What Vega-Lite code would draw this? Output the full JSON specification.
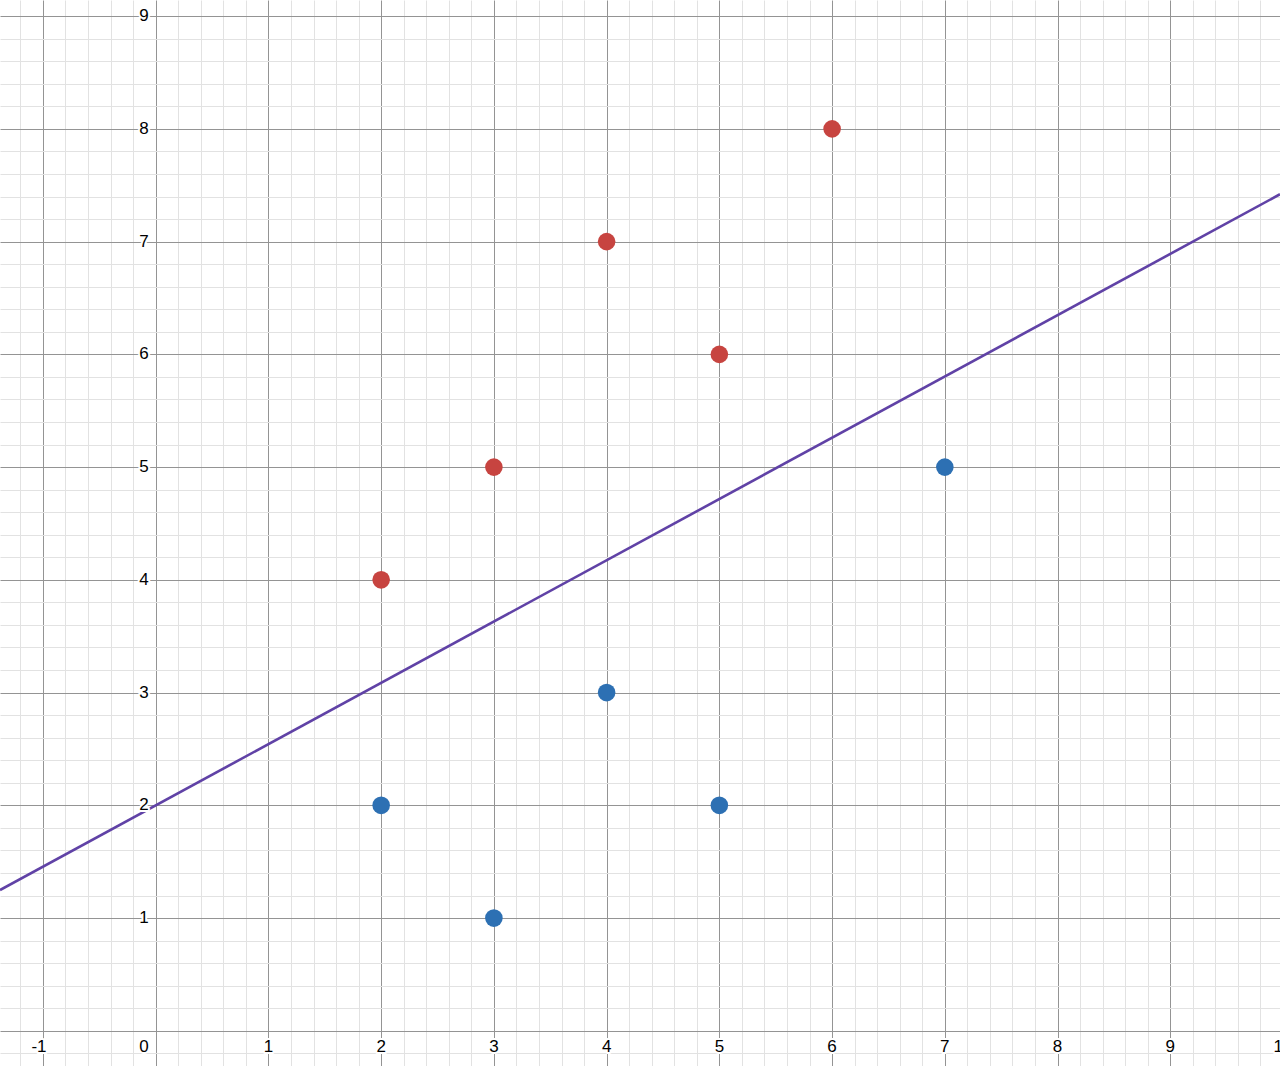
{
  "$schema": "https://vega.github.io/schema/vega-lite/v6.json",
  "width": 1280,
  "height": 1066,
  "padding": 0,
  "autosize": {"type": "none"},
  "background": "white",
  "config": {"view": {"stroke": null}},
  "datasets": {
    "points": [
      {"x": 2, "y": 4, "group": "red"},
      {"x": 3, "y": 5, "group": "red"},
      {"x": 4, "y": 7, "group": "red"},
      {"x": 5, "y": 6, "group": "red"},
      {"x": 6, "y": 8, "group": "red"},
      {"x": 2, "y": 2, "group": "blue"},
      {"x": 3, "y": 1, "group": "blue"},
      {"x": 4, "y": 3, "group": "blue"},
      {"x": 5, "y": 2, "group": "blue"},
      {"x": 7, "y": 5, "group": "blue"}
    ],
    "line": [
      {"x": -1.381, "y": 1.249},
      {"x": 9.973, "y": 7.42}
    ],
    "xlabels": [
      {"v": 1, "label": "1"}, {"v": 2, "label": "2"}, {"v": 3, "label": "3"},
      {"v": 4, "label": "4"}, {"v": 5, "label": "5"}, {"v": 6, "label": "6"},
      {"v": 7, "label": "7"}, {"v": 8, "label": "8"}, {"v": 9, "label": "9"},
      {"v": 10, "label": "10"}
    ],
    "xneg": [{"v": -1, "label": "-1"}],
    "zero": [{"v": 0, "label": "0"}],
    "ylabels": [
      {"v": 1, "label": "1"}, {"v": 2, "label": "2"}, {"v": 3, "label": "3"},
      {"v": 4, "label": "4"}, {"v": 5, "label": "5"}, {"v": 6, "label": "6"},
      {"v": 7, "label": "7"}, {"v": 8, "label": "8"}, {"v": 9, "label": "9"}
    ]
  },
  "layer": [
    {
      "data": {"name": "line"},
      "mark": {"type": "line", "color": "#6042a6", "strokeWidth": 2.6, "clip": true},
      "encoding": {
        "x": {
          "field": "x", "type": "quantitative",
          "scale": {"domain": [-1.381, 9.973], "nice": false, "zero": false},
          "axis": {
            "title": null, "labels": false, "ticks": false, "domain": false, "grid": true,
            "tickCount": 500,
            "values": [-1.2,-1,-0.8,-0.6,-0.4,-0.2,0,0.2,0.4,0.6,0.8,1,1.2,1.4,1.6,1.8,2,2.2,2.4,2.6,2.8,3,3.2,3.4,3.6,3.8,4,4.2,4.4,4.6,4.8,5,5.2,5.4,5.6,5.8,6,6.2,6.4,6.6,6.8,7,7.2,7.4,7.6,7.8,8,8.2,8.4,8.6,8.8,9,9.2,9.4,9.6,9.8],
            "gridColor": {"condition": {"test": "abs(datum.value - round(datum.value)) < 0.001", "value": "#949494"}, "value": "#e2e2e2"},
            "gridWidth": 1
          }
        },
        "y": {
          "field": "y", "type": "quantitative",
          "scale": {"domain": [-0.312, 9.143], "nice": false, "zero": false},
          "axis": {
            "title": null, "labels": false, "ticks": false, "domain": false, "grid": true,
            "tickCount": 500,
            "values": [-0.2,0,0.2,0.4,0.6,0.8,1,1.2,1.4,1.6,1.8,2,2.2,2.4,2.6,2.8,3,3.2,3.4,3.6,3.8,4,4.2,4.4,4.6,4.8,5,5.2,5.4,5.6,5.8,6,6.2,6.4,6.6,6.8,7,7.2,7.4,7.6,7.8,8,8.2,8.4,8.6,8.8,9],
            "gridColor": {"condition": {"test": "abs(datum.value - round(datum.value)) < 0.001", "value": "#949494"}, "value": "#e2e2e2"},
            "gridWidth": 1
          }
        }
      }
    },
    {
      "mark": {"type": "rule", "color": "#000000", "strokeWidth": 2},
      "encoding": {"x": {"datum": 0, "type": "quantitative"}}
    },
    {
      "mark": {"type": "rule", "color": "#000000", "strokeWidth": 2},
      "encoding": {"y": {"datum": 0, "type": "quantitative"}}
    },
    {
      "data": {"name": "xlabels"},
      "mark": {"type": "text", "font": "Liberation Sans", "fontSize": 17, "align": "center", "baseline": "alphabetic", "dy": 21, "stroke": "white", "strokeWidth": 4, "strokeJoin": "round", "clip": true},
      "encoding": {"x": {"field": "v", "type": "quantitative"}, "y": {"datum": 0, "type": "quantitative"}, "text": {"field": "label"}}
    },
    {
      "data": {"name": "xlabels"},
      "mark": {"type": "text", "font": "Liberation Sans", "fontSize": 17, "align": "center", "baseline": "alphabetic", "dy": 21, "color": "#000000", "clip": true},
      "encoding": {"x": {"field": "v", "type": "quantitative"}, "y": {"datum": 0, "type": "quantitative"}, "text": {"field": "label"}}
    },
    {
      "data": {"name": "xneg"},
      "mark": {"type": "text", "font": "Liberation Sans", "fontSize": 17, "align": "center", "baseline": "alphabetic", "dy": 21, "dx": -4, "stroke": "white", "strokeWidth": 4, "strokeJoin": "round"},
      "encoding": {"x": {"field": "v", "type": "quantitative"}, "y": {"datum": 0, "type": "quantitative"}, "text": {"field": "label"}}
    },
    {
      "data": {"name": "xneg"},
      "mark": {"type": "text", "font": "Liberation Sans", "fontSize": 17, "align": "center", "baseline": "alphabetic", "dy": 21, "dx": -4, "color": "#000000"},
      "encoding": {"x": {"field": "v", "type": "quantitative"}, "y": {"datum": 0, "type": "quantitative"}, "text": {"field": "label"}}
    },
    {
      "data": {"name": "zero"},
      "mark": {"type": "text", "font": "Liberation Sans", "fontSize": 17, "align": "right", "baseline": "alphabetic", "dy": 21, "dx": -7, "stroke": "white", "strokeWidth": 4, "strokeJoin": "round"},
      "encoding": {"x": {"field": "v", "type": "quantitative"}, "y": {"datum": 0, "type": "quantitative"}, "text": {"field": "label"}}
    },
    {
      "data": {"name": "zero"},
      "mark": {"type": "text", "font": "Liberation Sans", "fontSize": 17, "align": "right", "baseline": "alphabetic", "dy": 21, "dx": -7, "color": "#000000"},
      "encoding": {"x": {"field": "v", "type": "quantitative"}, "y": {"datum": 0, "type": "quantitative"}, "text": {"field": "label"}}
    },
    {
      "data": {"name": "ylabels"},
      "mark": {"type": "text", "font": "Liberation Sans", "fontSize": 17, "align": "right", "baseline": "middle", "dx": -7, "stroke": "white", "strokeWidth": 4, "strokeJoin": "round"},
      "encoding": {"x": {"datum": 0, "type": "quantitative"}, "y": {"field": "v", "type": "quantitative"}, "text": {"field": "label"}}
    },
    {
      "data": {"name": "ylabels"},
      "mark": {"type": "text", "font": "Liberation Sans", "fontSize": 17, "align": "right", "baseline": "middle", "dx": -7, "color": "#000000"},
      "encoding": {"x": {"datum": 0, "type": "quantitative"}, "y": {"field": "v", "type": "quantitative"}, "text": {"field": "label"}}
    },
    {
      "data": {"name": "points"},
      "mark": {"type": "circle", "size": 310, "opacity": 1},
      "encoding": {
        "x": {"field": "x", "type": "quantitative"},
        "y": {"field": "y", "type": "quantitative"},
        "color": {"field": "group", "type": "nominal", "scale": {"domain": ["red", "blue"], "range": ["#c74440", "#2d70b3"]}, "legend": null}
      }
    }
  ]
}
